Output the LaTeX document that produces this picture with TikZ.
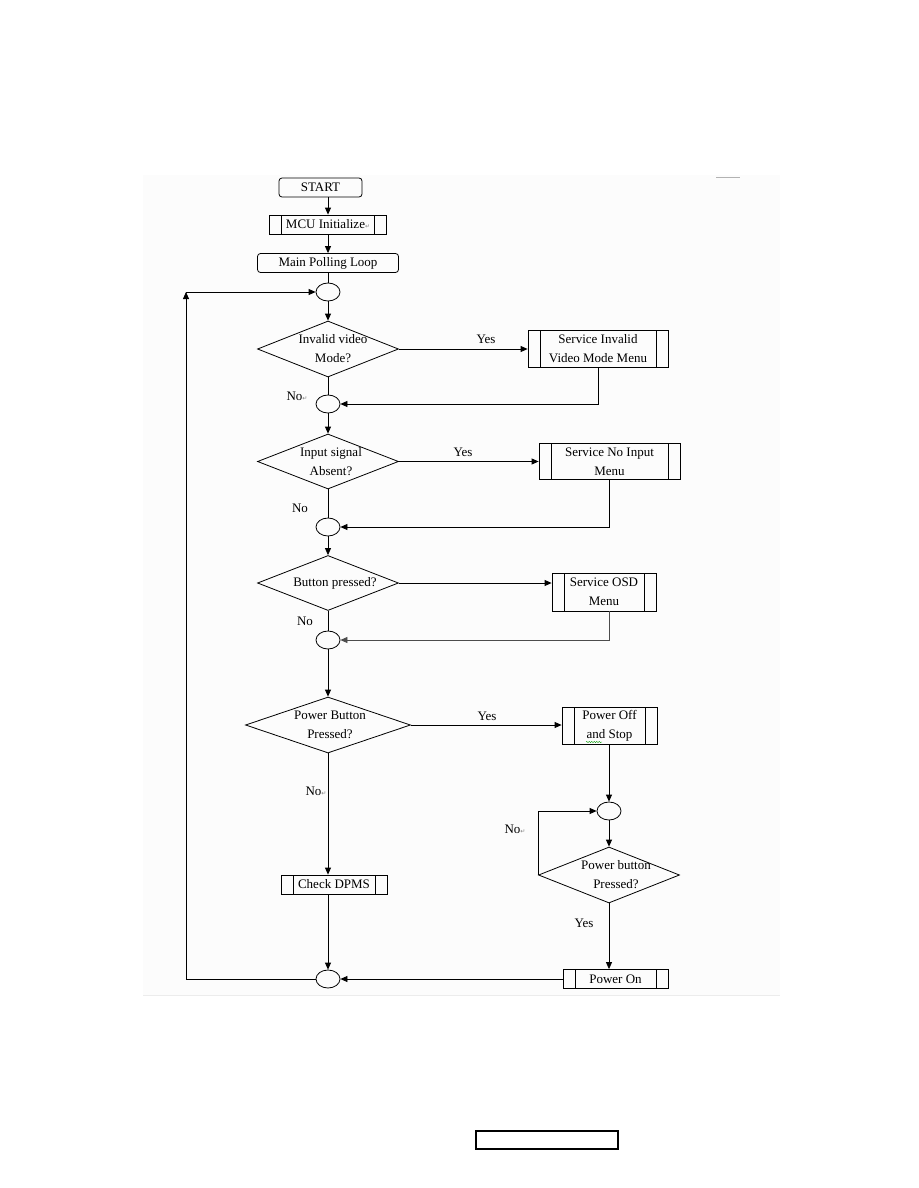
\documentclass[tikz,border=0pt]{standalone}
\usepackage{fontspec}
\setmainfont{Liberation Serif}
\newfontfamily\markfont{DejaVu Sans}
\usetikzlibrary{arrows.meta,shapes.geometric,decorations.pathmorphing}
\newcommand{\pmark}{{\markfont\fontsize{6}{6}\selectfont\color{gray}\char"21B5}}

\begin{document}
\begin{tikzpicture}[x=1pt,y=-1pt,>={Triangle[length=7pt,width=6pt]},line width=0.8pt,
  every node/.style={font=\fontsize{13}{19}\selectfont,inner sep=0pt},
  term/.style={draw,rounded corners=3pt,minimum height=19},
  proc/.style={draw,align=center,minimum height=19,path picture={
    \draw ([xshift=12pt]path picture bounding box.north west) -- ([xshift=12pt]path picture bounding box.south west);
    \draw ([xshift=-12pt]path picture bounding box.north east) -- ([xshift=-12pt]path picture bounding box.south east);}},
  dec/.style={draw,diamond,minimum width=141,minimum height=56},
  joint/.style={draw,ellipse,minimum width=24,minimum height=18},
  lbl/.style={align=center}]
  \useasboundingbox (0,0) rectangle (918,1188);
  \path[fill=gray!2] (143,175) rectangle (780,995);
  \draw[gray!15,line width=0.6pt] (143,995) -- (780,995);
  \draw[gray!60,line width=0.6pt] (716,177) -- (740,177);

  % main column
  \node[term,minimum width=83] (start) at (320.5,187.5) {START};
  \node[proc,minimum width=117] (mcu) at (328,224.5) {MCU Initialize\pmark};
  \node[term,minimum width=141] (loop) at (328,263) {Main Polling Loop};
  \node[joint] (j1) at (328,292) {};
  \node[dec,label={[lbl,xshift=5pt]center:Invalid video\\Mode?}] (d1) at (328,349) {};
  \node[joint] (j2) at (328,404) {};
  \node[dec,minimum height=55,label={[lbl,xshift=3pt]center:Input signal\\Absent?}] (d2) at (328,461.5) {};
  \node[joint] (j3) at (328,527) {};
  \node[dec,minimum height=55,label={[lbl,xshift=7pt]center:Button pressed?}] (d3) at (328,583) {};
  \node[joint] (j4) at (328,640) {};
  \node[dec,minimum width=165,label={[lbl,xshift=2pt]center:Power Button\\Pressed?}] (d4) at (328,725) {};
  \node[proc,minimum width=106] (dpms) at (334,884.5) {Check DPMS};
  \node[joint] (j6) at (328,979) {};

  % right column
  \node[proc,minimum width=140,minimum height=37] (s1) at (598,349) {Service Invalid\\Video Mode Menu};
  \node[proc,minimum width=141,minimum height=36] (s2) at (609.5,461.5) {Service No Input\\Menu};
  \node[proc,minimum width=104,minimum height=38] (s3) at (604,592) {Service OSD\\Menu};
  \node[proc,minimum width=95,minimum height=37] (s4) at (609.5,725.5) {Power Off\\and Stop};
  \draw[green!60!black,line width=0.4pt,decorate,decoration={snake,amplitude=0.6pt,segment length=2.5pt}] (586,742) -- (602,742);
  \node[joint] (j5) at (609,811) {};
  \node[dec,label={[lbl,xshift=7pt]center:Power button\\Pressed?}] (d5) at (609,875) {};
  \node[proc,minimum width=105] (pon) at (615.5,979) {Power On};

  % labels
  \node (y1) at (486,339) {Yes};
  \node (y2) at (463,452) {Yes};
  \node (y4) at (487,716) {Yes};
  \node (y5) at (584,923) {Yes};
  \node (n1) at (297,396) {No\pmark};
  \node (n2) at (300,508) {No};
  \node (n3) at (305,621) {No};
  \node (n4) at (316,791) {No\pmark};
  \node (n5) at (515,829) {No\pmark};

  % connectors
  \draw[->] (start.south -| mcu) -- (mcu);
  \draw[->] (mcu) -- (loop);
  \draw (loop) -- (j1);
  \draw[->] (j1) -- (d1);
  \draw[->] (d1) -- (s1);
  \draw[->] (s1.south) |- (j2);
  \draw (d1) -- (j2);
  \draw[->] (j2) -- (d2);
  \draw[->] (d2) -- (d2 -| s2.west);
  \draw[->] (s2.south) |- (j3);
  \draw (d2) -- (j3);
  \draw[->] (j3) -- (d3);
  \draw[->] (d3.east) -- (d3.east -| s3.west);
  \draw[->,black!70] ([xshift=5pt]s3.south) |- (j4);
  \draw (d3) -- (j4);
  \draw[->] (j4) -- (d4);
  \draw[->] (d4.east) -- (d4.east -| s4.west);
  \draw[->] (s4.south -| j5) -- (j5);
  \draw[->] (j5) -- (d5);
  \draw[->] (d5.west) |- (j5);
  \draw[->] (d5.south) -- (d5.south |- pon.north);
  \draw[->] (pon.west) -- (j6);
  \draw[->] (d4.south) -- (d4.south |- dpms.north);
  \draw[->] (dpms.south -| j6) -- (j6);
  \coordinate (back) at (186,979);
  \coordinate (top) at (186,292);
  \draw[->] (j6) -- (back) -- (top);
  \draw[->] (top) -- (j1);

  % page box
  \draw[line width=1.2pt] (476,1131) rectangle (618,1149);
\end{tikzpicture}
\end{document}
